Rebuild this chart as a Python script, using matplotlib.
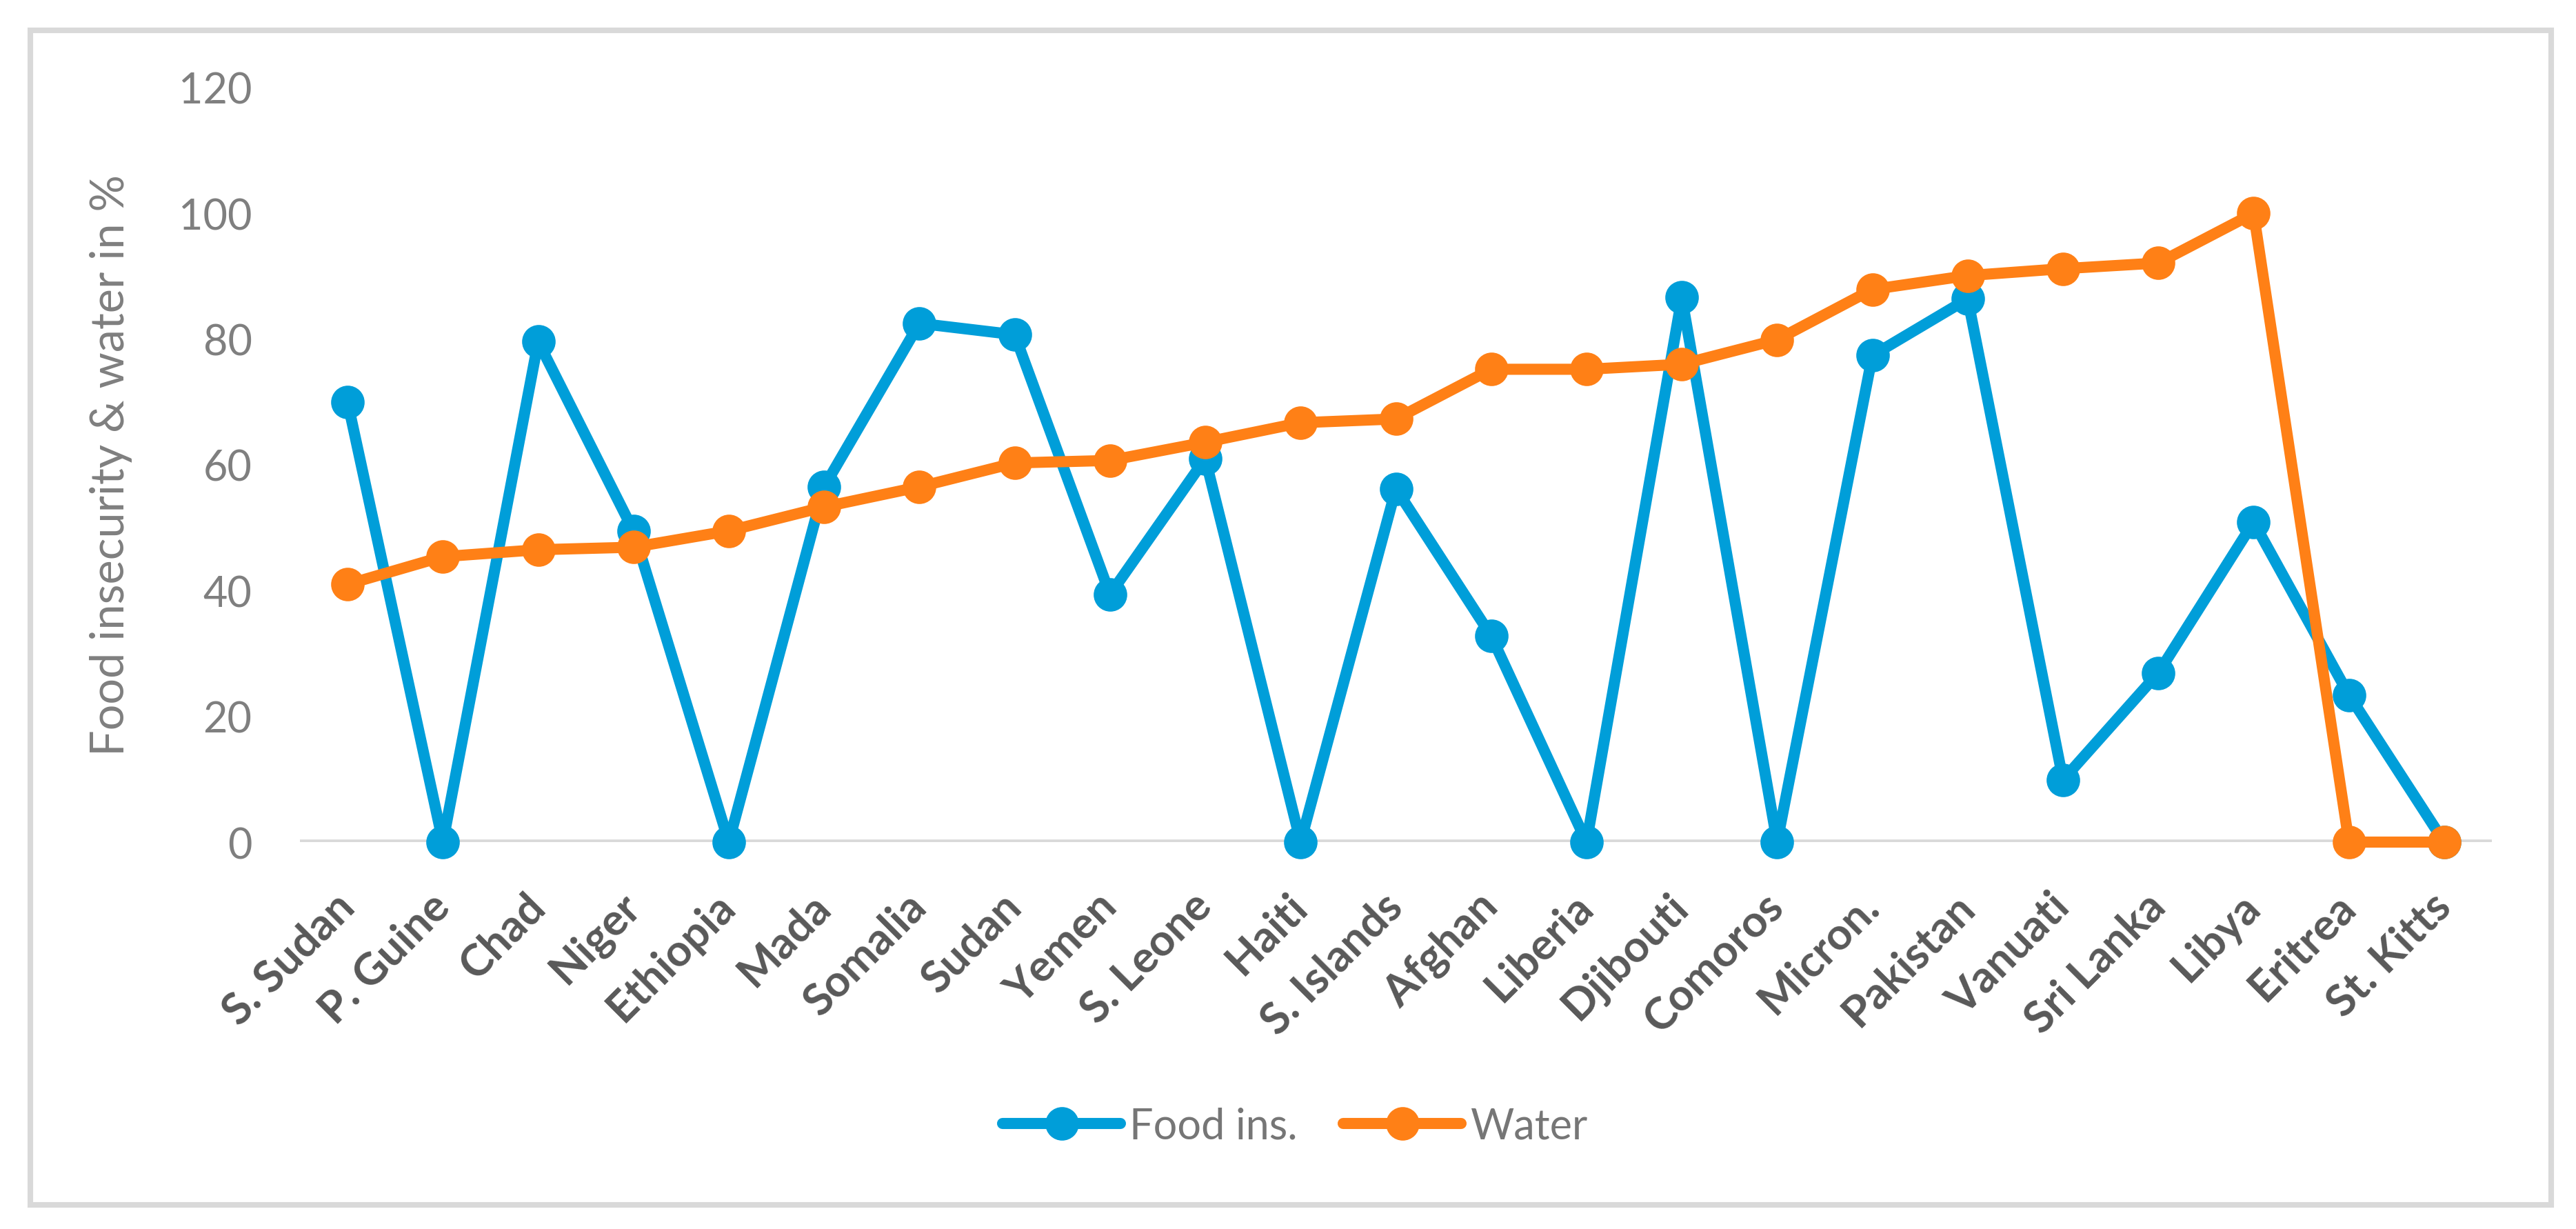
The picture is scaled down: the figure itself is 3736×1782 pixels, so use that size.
import matplotlib
matplotlib.use("Agg")
import matplotlib.pyplot as plt
from matplotlib.patches import Rectangle
import numpy as np

# Data
countries = ['S. Sudan', 'P. Guine', 'Chad', 'Niger', 'Ethiopia', 'Mada', 'Somalia',
             'Sudan', 'Yemen', 'S. Leone', 'Haiti', 'S. Islands', 'Afghan', 'Liberia',
             'Djibouti', 'Comoros', 'Micron.', 'Pakistan', 'Vanuati', 'Sri Lanka',
             'Libya', 'Eritrea', 'St. Kitts']
food = [70, 0, 79.6, 49.5, 0, 56.5, 82.5, 80.7, 39.4, 61, 0, 56.2, 32.8, 0,
        86.6, 0, 77.4, 86.4, 9.9, 26.9, 50.9, 23.4, 0]
water = [41, 45.4, 46.5, 46.9, 49.5, 53.3, 56.5, 60.3, 60.7, 63.6, 66.7, 67.3,
         75.2, 75.2, 76, 79.9, 87.9, 90.1, 91.2, 92.1, 100, 0, 0]
yticks = [0, 20, 40, 60, 80, 100, 120]

plt.rcParams['font.family'] = ['Lato', 'DejaVu Sans']

W, H, DPI = 3736, 1783, 200
fig = plt.figure(figsize=(W / DPI, H / DPI), dpi=DPI)
ax = fig.add_axes([435 / W, 1 - 1222 / H, (3614 - 435) / W, (1222 - 128) / H])

# outer chart border
fig.patches.append(Rectangle((44 / W, 1 - 1748 / H), (3700 - 44) / W, (1748 - 45) / H,
                             transform=fig.transFigure, fill=False,
                             edgecolor='#D9D9D9', linewidth=2.9))

x = np.arange(len(countries))
blue = '#009ED9'
orange = '#FF8016'
ax.axhline(0, color='#D9D9D9', linewidth=2.7, zorder=1)
ax.plot(x, food, color=blue, linewidth=5.8, marker='o', markersize=16.5,
        label='Food ins.', zorder=3, solid_capstyle='round', clip_on=False)
ax.plot(x, water, color=orange, linewidth=5.8, marker='o', markersize=16.5,
        label='Water', zorder=4, solid_capstyle='round', clip_on=False)

ax.set_xlim(-0.5, len(countries) - 0.5)
ax.set_ylim(0, 120)
ax.set_yticks(yticks)
ax.set_yticklabels([str(v) for v in yticks], fontsize=22, color='#7F7F7F')
ax.set_xticks(x)
ax.set_xticklabels(countries, rotation=45, ha='right', va='center',
                   rotation_mode='anchor', fontsize=23, fontweight='bold',
                   color='#595959')
ax.tick_params(axis='y', length=0, pad=25)
ax.tick_params(axis='x', length=0, pad=30)
for s in ax.spines.values():
    s.set_visible(False)

ax.set_ylabel('Food insecurity & water in %', fontsize=24, color='#7F7F7F')
ax.yaxis.set_label_coords(-0.0764, 0.5)

fig.legend(loc='center', bbox_to_anchor=(0.5027, 0.0836), ncol=2, frameon=False,
           fontsize=22, handlelength=2.8, handletextpad=0.2, columnspacing=1.1,
           labelcolor='#767676')

fig.savefig('out.png', dpi=DPI)
